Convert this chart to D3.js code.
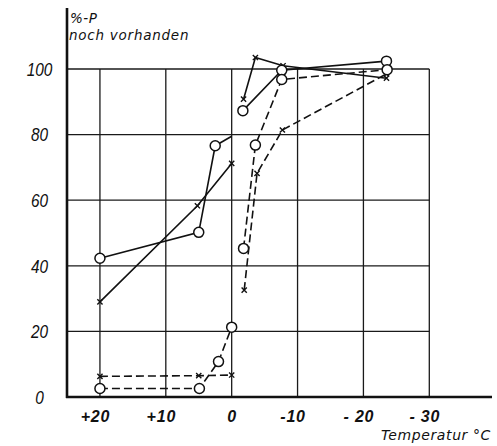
<!DOCTYPE html>
<html>
<head>
<meta charset="utf-8">
<script src="https://cdn.jsdelivr.net/npm/d3@7/dist/d3.min.js"></script>
<style>
  html, body { margin: 0; padding: 0; background: #fff; }
  svg text { font-family: "Liberation Sans", Arial, sans-serif; font-style: italic; fill: #111; }
  svg text.title { font-family: "DejaVu Sans", sans-serif; }
</style>
</head>
<body>
<svg id="chart" width="497" height="446"></svg>
<script>
// Temperature ticks (°C), drawn with the warm side on the left
const tempTicks = [20, 10, 0, -10, -20, -30];
const tempTickLabels = ["+20", "+10", "0", "-10", "- 20", "- 30"];
const pctTicks = [0, 20, 40, 60, 80, 100];

// Solid line, circles: warm range, and cold range
const solidCircleWarm = [[20, 42.3], [5, 50.2], [2.5, 76.6]];
const solidCircleWarmTail = [[2.5, 76.6], [0, 79.5]];
const solidCircleCold = [[-1.7, 87.3], [-7.6, 99.6], [-23.5, 102.4]];

// Solid line, crosses
const solidCrossWarm = [[20, 29.0], [5.2, 58.3], [0, 71.2]];
const solidCrossCold = [[-1.8, 90.8], [-3.6, 103.5], [-7.8, 101.0], [-23.5, 97.2]];

// Dashed line, circles
const dashCircleWarm = [[20, 2.6], [4.9, 2.6], [2.0, 10.8], [0, 21.3]];
const dashCircleCold = [[-1.8, 45.3], [-3.6, 76.8], [-7.6, 96.8], [-23.6, 99.8]];

// Dashed line, crosses
const dashCrossWarm = [[20, 6.3], [5, 6.5], [0, 6.7]];
const dashCrossCold = [[-1.9, 32.6], [-3.85, 68.2], [-7.7, 81.4], [-23.5, 98.5]];

const svg = d3.select("#chart");
const x = d3.scaleLinear().domain([25, -30]).range([67, 429.3]);
const y = d3.scaleLinear().domain([0, 100]).range([397, 69]);

// grid
const grid = svg.append("g").attr("stroke", "#1a1a1a").attr("stroke-width", 1.3);
grid.selectAll("line.v").data(tempTicks).join("line")
  .attr("x1", d => x(d)).attr("x2", d => x(d))
  .attr("y1", y(100)).attr("y2", y(0));
grid.selectAll("line.h").data(pctTicks.filter(d => d > 0)).join("line")
  .attr("x1", x(25)).attr("x2", x(-30))
  .attr("y1", d => y(d)).attr("y2", d => y(d));

// axes
const xAxis = d3.axisBottom(x).tickValues(tempTicks).tickSize(0)
  .tickFormat((d, i) => tempTickLabels[i]);
const gx = svg.append("g").attr("transform", `translate(0,${y(0)})`).call(xAxis);
gx.select(".domain").remove();
gx.selectAll("text").attr("dy", null).attr("y", 24.5)
  .attr("dx", d => d === 0 ? 0 : -5)
  .style("font-size", "16px").style("font-weight", "bold").style("letter-spacing", "0.8px");
svg.append("line").attr("x1", 66).attr("x2", 492).attr("y1", y(0)).attr("y2", y(0))
  .attr("stroke", "#111").attr("stroke-width", 2.4);

const yAxis = d3.axisLeft(y).tickValues(pctTicks).tickSize(0);
const gy = svg.append("g").attr("transform", "translate(39.5,0)").call(yAxis);
gy.select(".domain").remove();
gy.selectAll("text").attr("x", 0).attr("text-anchor", "middle").attr("dy", "0.36em")
  .attr("transform", "scale(0.88,1)")
  .style("font-size", "17.5px");
svg.append("line").attr("x1", 67).attr("x2", 67).attr("y1", 8).attr("y2", y(0) + 1)
  .attr("stroke", "#111").attr("stroke-width", 2.6);

// titles
svg.append("text").attr("class", "title").attr("x", 70).attr("y", 23)
  .style("font-size", "13.5px").style("letter-spacing", "0.5px").text("%-P");
svg.append("text").attr("class", "title").attr("x", 69).attr("y", 40)
  .style("font-size", "13.5px").style("letter-spacing", "0.75px").text("noch vorhanden");
svg.append("text").attr("class", "title").attr("x", 491).attr("y", 440).attr("text-anchor", "end")
  .style("font-size", "14px").style("letter-spacing", "0.6px").text("Temperatur  °C");

// series
const line = d3.line().x(d => x(d[0])).y(d => y(d[1]));
const seriesG = svg.append("g").attr("fill", "none").attr("stroke", "#111").attr("stroke-width", 1.6);
function drawLine(data, dashed) {
  seriesG.append("path").datum(data).attr("d", line)
    .attr("stroke-dasharray", dashed ? "8,4" : null);
}
[solidCircleWarm, solidCircleWarmTail, solidCircleCold, solidCrossWarm, solidCrossCold].forEach(d => drawLine(d, false));
[dashCircleWarm, dashCircleCold, dashCrossWarm, dashCrossCold].forEach(d => drawLine(d, true));

const markG = svg.append("g");
function drawCrosses(data) {
  markG.selectAll(null).data(data).join("path")
    .attr("d", d => {
      const cx = x(d[0]), cy = y(d[1]), r = 2.6;
      return `M${cx - r},${cy - r}L${cx + r},${cy + r}M${cx - r},${cy + r}L${cx + r},${cy - r}`;
    })
    .attr("stroke", "#111").attr("stroke-width", 1.4).attr("fill", "none");
}
function drawCircles(data) {
  markG.selectAll(null).data(data).join("circle")
    .attr("cx", d => x(d[0])).attr("cy", d => y(d[1])).attr("r", 5)
    .attr("fill", "#fff").attr("stroke", "#111").attr("stroke-width", 1.5);
}
[solidCrossWarm, solidCrossCold, dashCrossWarm, dashCrossCold].forEach(drawCrosses);
[solidCircleWarm, solidCircleCold, dashCircleWarm, dashCircleCold].forEach(drawCircles);
</script>
</body>
</html>
